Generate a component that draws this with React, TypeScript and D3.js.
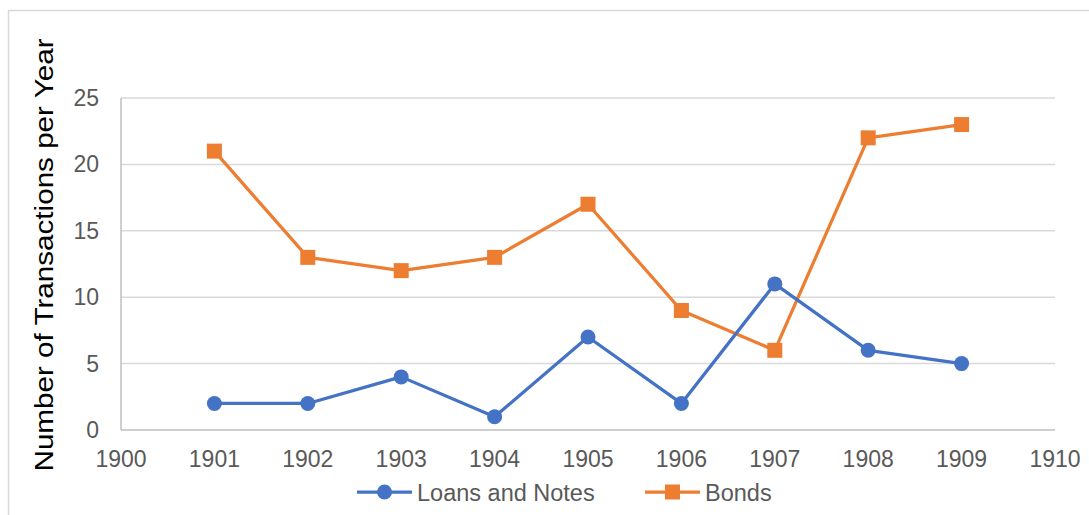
import { useEffect, useRef } from "react";
import * as d3 from "d3";

const years = [1901, 1902, 1903, 1904, 1905, 1906, 1907, 1908, 1909];
const loansAndNotes = [2, 2, 4, 1, 7, 2, 11, 6, 5];
const bonds = [21, 13, 12, 13, 17, 9, 6, 22, 23];
const xTicks = [1900, 1901, 1902, 1903, 1904, 1905, 1906, 1907, 1908, 1909, 1910];
const yTicks = [0, 5, 10, 15, 20, 25];

const BLUE = "#4472C4";
const ORANGE = "#ED7D31";
const FONT = "'Liberation Sans', Arial, sans-serif";

export default function App() {
	const ref = useRef<SVGSVGElement>(null);

	useEffect(() => {
		const svg = d3.select(ref.current);
		svg.selectAll("*").remove();

		// chart frame (right and bottom edges run off the picture)
		svg.append("rect")
			.attr("x", 8.5).attr("y", 10.5)
			.attr("width", 1100).attr("height", 520)
			.attr("fill", "#fff")
			.attr("stroke", "#d9d9d9")
			.attr("stroke-width", 1.5);

		const x = d3.scaleLinear().domain([1900, 1910]).range([121, 1055]);
		const y = d3.scaleLinear().domain([0, 25]).range([430, 98]);

		// gridlines
		svg.append("g")
			.selectAll("line")
			.data(yTicks)
			.enter()
			.append("line")
			.attr("x1", x(1900)).attr("x2", x(1910))
			.attr("y1", d => y(d)).attr("y2", d => y(d))
			.attr("stroke", d => d === 0 ? "#bfbfbf" : "#d9d9d9")
			.attr("stroke-width", 1.5);

		// vertical axis line
		svg.append("line")
			.attr("x1", x(1900)).attr("x2", x(1900))
			.attr("y1", y(25)).attr("y2", y(0))
			.attr("stroke", "#bfbfbf")
			.attr("stroke-width", 1.5);

		// tick labels
		svg.append("g")
			.selectAll("text")
			.data(yTicks)
			.enter()
			.append("text")
			.attr("x", 99)
			.attr("y", d => y(d) + 8)
			.attr("text-anchor", "end")
			.attr("font-family", FONT)
			.attr("font-size", "23px")
			.attr("fill", "#595959")
			.text(d => d);

		svg.append("g")
			.selectAll("text")
			.data(xTicks)
			.enter()
			.append("text")
			.attr("x", d => x(d))
			.attr("y", 467)
			.attr("text-anchor", "middle")
			.attr("font-family", FONT)
			.attr("font-size", "23px")
			.attr("fill", "#595959")
			.text(d => d);

		// axis title
		svg.append("text")
			.attr("transform", "translate(53, 255) rotate(-90)")
			.attr("text-anchor", "middle")
			.attr("font-family", FONT)
			.attr("font-size", "25px")
			.attr("fill", "#000")
			.attr("textLength", 433)
			.attr("lengthAdjust", "spacingAndGlyphs")
			.text("Number of Transactions per Year");

		const line = d3.line<number>()
			.x((_, i) => x(years[i]))
			.y(d => y(d));

		// series
		const drawSeries = (vals: number[], color: string, shape: "circle" | "square") => {
			svg.append("path")
				.datum(vals)
				.attr("d", line)
				.attr("fill", "none")
				.attr("stroke", color)
				.attr("stroke-width", 3.25)
				.attr("stroke-linejoin", "round");

			const g = svg.append("g");
			if (shape === "circle") {
				g.selectAll("circle")
					.data(vals)
					.enter()
					.append("circle")
					.attr("cx", (_, i) => x(years[i]))
					.attr("cy", d => y(d))
					.attr("r", 7.5)
					.attr("fill", color);
			} else {
				g.selectAll("rect")
					.data(vals)
					.enter()
					.append("rect")
					.attr("x", (_, i) => x(years[i]) - 7.5)
					.attr("y", d => y(d) - 7.5)
					.attr("width", 15)
					.attr("height", 15)
					.attr("fill", color);
			}
		};

		drawSeries(bonds, ORANGE, "square");
		drawSeries(loansAndNotes, BLUE, "circle");

		// legend
		const legend = svg.append("g");
		const items = [
			{ label: "Loans and Notes", color: BLUE, shape: "circle", x0: 357 },
			{ label: "Bonds", color: ORANGE, shape: "square", x0: 645 },
		];
		items.forEach(it => {
			const row = legend.append("g").attr("transform", `translate(${it.x0}, 492)`);
			row.append("line")
				.attr("x1", 0).attr("x2", 55)
				.attr("y1", 0).attr("y2", 0)
				.attr("stroke", it.color)
				.attr("stroke-width", 3.25);
			if (it.shape === "circle") {
				row.append("circle").attr("cx", 27.5).attr("cy", 0).attr("r", 7.5).attr("fill", it.color);
			} else {
				row.append("rect").attr("x", 20).attr("y", -7.5).attr("width", 15).attr("height", 15).attr("fill", it.color);
			}
			row.append("text")
				.attr("x", 60)
				.attr("y", 8.5)
				.attr("font-family", FONT)
				.attr("font-size", "23.5px")
				.attr("fill", "#595959")
				.text(it.label);
		});
	}, []);

	return (
		<svg
			ref={ref}
			width={1089}
			height={515}
			style={{ position: "absolute", left: 0, top: 0, background: "#fff" }}
		/>
	);
}
